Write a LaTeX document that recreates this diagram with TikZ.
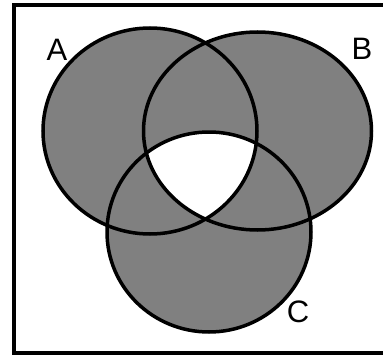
\documentclass[tikz,border=0pt]{standalone}
\usepackage{fontspec}
\setmainfont{Liberation Sans}
\usepackage{tikz}
\usetikzlibrary{positioning}

\tikzset{
    setline/.style={line width=3.5pt, black},
    setlabel/.style={inner sep=0pt, font=\fontsize{31}{31}\selectfont}
}

\begin{document}
\begin{tikzpicture}[x=1pt, y=-1pt]
    \useasboundingbox (0,0) rectangle (383,356);
    \clip (0,0) rectangle (383,356);
    % universe
    \draw[line width=4pt] (13.5,4.5) rectangle (400,353);
    % shaded union
    \fill[gray] (150,131) ellipse (107pt and 103pt);
    \fill[gray] (257.5,131) ellipse (114pt and 99pt);
    \fill[gray] (209,232) ellipse (102pt and 100pt);
    % A and B and C left blank
    \begin{scope}
        \clip (150,131) ellipse (107pt and 103pt);
        \clip (257.5,131) ellipse (114pt and 99pt);
        \fill[white] (209,232) ellipse (102pt and 100pt);
    \end{scope}
    \draw[setline] (150,131) ellipse (107pt and 103pt);
    \draw[setline] (257.5,131) ellipse (114pt and 99pt);
    \draw[setline] (209,232) ellipse (102pt and 100pt);
    \node[setlabel] (labA) at (57,50) {A};
    \node[setlabel] (labB) at (362,49) {B};
    \node[setlabel] (labC) at (298,312) {C};
\end{tikzpicture}
\end{document}
